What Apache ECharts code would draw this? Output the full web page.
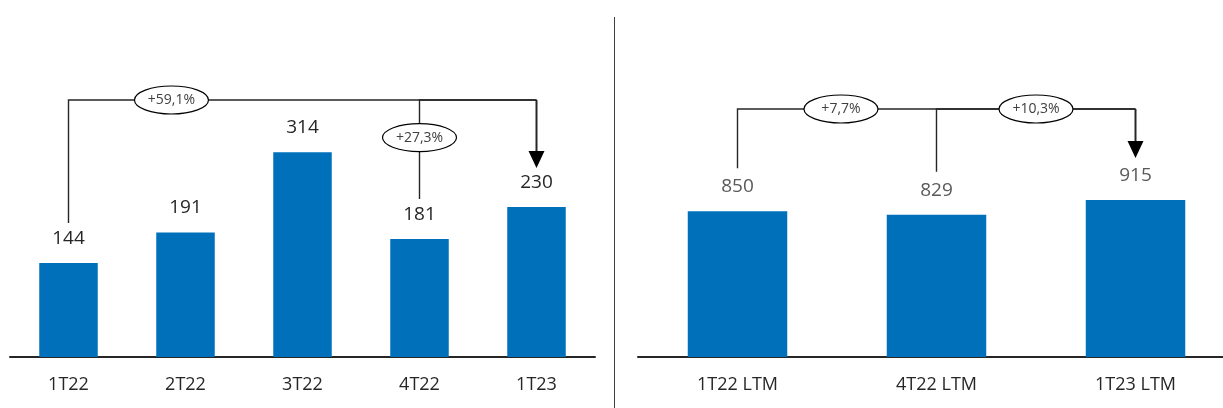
<!DOCTYPE html>
<html>
<head>
<meta charset="utf-8">
<script src="https://cdn.jsdelivr.net/npm/echarts@6/dist/echarts.min.js"></script>
<style>
html, body { margin: 0; padding: 0; background: #fff; overflow: hidden; }
#main { width: 1240px; height: 408px; }
</style>
</head>
<body>
<div id="main"></div>
<script>
const quarters = ['1T22', '2T22', '3T22', '4T22', '1T23']
const quarterValues = [144, 191, 314, 181, 230]
const ltmLabels = ['1T22 LTM', '4T22 LTM', '1T23 LTM']
const ltmValues = [850, 829, 915]
// variações (de -> para)
const quarterGrowth = [
    { from: 0, to: 4, text: '+59,1%', on: 'h', t: 0.22 },
    { from: 3, to: 4, text: '+27,3%', on: 'v', t: 0.38 }
]
const ltmGrowth = [
    { from: 0, to: 2, text: '+7,7%', on: 'h', t: 0.26 },
    { from: 1, to: 2, text: '+10,3%', on: 'h', t: 0.5 }
]

const font = 'Open Sans'
const blue = '#0070BB'
const ink = '#262626'

const main = document.querySelector('#main')
const myChart = echarts.init(main)

const catAxis = (gridIndex, data) => ({
    type: 'category',
    gridIndex,
    data,
    axisLine: { lineStyle: { color: ink, width: 2 } },
    axisTick: { show: false },
    axisLabel: { color: ink, fontFamily: font, fontSize: 18, margin: 19 }
})
const valAxis = (gridIndex, max) => ({
    type: 'value',
    gridIndex,
    min: 0,
    max,
    show: false
})
const barSeries = (idx, data, color) => ({
    type: 'bar',
    xAxisIndex: idx,
    yAxisIndex: idx,
    data,
    barWidth: '50%',
    itemStyle: { color: blue },
    label: {
        show: true,
        position: 'top',
        distance: 15,
        color,
        fontFamily: font,
        fontSize: 19
    },
    silent: true
})

myChart.setOption({
    animation: false,
    grid: [
        { left: 10, width: 585, top: 31, bottom: 51 },
        { left: 638, width: 597, top: 31, bottom: 51 }
    ],
    xAxis: [catAxis(0, quarters), catAxis(1, ltmLabels)],
    yAxis: [valAxis(0, 500), valAxis(1, 1900)],
    series: [
        barSeries(0, quarterValues, ink),
        barSeries(1, ltmValues, '#595959')
    ]
})

// setas e elipses com as variações
function brackets(idx, cats, values, items, topY, gap) {
    const px = i => myChart.convertToPixel({ xAxisIndex: idx }, cats[i])
    const py = v => myChart.convertToPixel({ yAxisIndex: idx }, v)
    const out = []
    const ovals = []
    const seen = {}
    items.forEach(it => {
        const x0 = px(it.from)
        const x1 = px(it.to)
        const yBottom = py(values[it.from]) - gap
        out.push({ type: 'polyline', shape: { points: [[x0, yBottom], [x0, topY], [x1, topY]] },
            style: { stroke: ink, lineWidth: 1.4, fill: null } })
        if (!seen[it.to]) {
            seen[it.to] = true
            const tip = py(values[it.to]) - gap + 1
            out.push({ type: 'line', shape: { x1: x1, y1: topY, x2: x1, y2: tip - 15 },
                style: { stroke: ink, lineWidth: 2 } })
            out.push({ type: 'polygon', shape: { points: [[x1 - 8, tip - 17], [x1 + 8, tip - 17], [x1, tip]] },
                style: { fill: '#000' } })
        }
        let cx, cy
        if (it.on === 'h') {
            cx = x0 + it.t * (x1 - x0)
            cy = topY
        } else {
            cx = x0
            cy = topY + it.t * (yBottom - topY)
        }
        ovals.push({ type: 'ellipse', shape: { cx, cy, rx: 37, ry: 14 },
            style: { fill: '#fff', stroke: '#000', lineWidth: 1.2 } })
        ovals.push({ type: 'text', x: cx, y: cy,
            style: { text: it.text, fill: '#404040', font: '14px "' + font + '"', align: 'center', verticalAlign: 'middle' } })
    })
    return out.concat(ovals)
}

myChart.setOption({
    graphic: [
        { type: 'line', shape: { x1: 614.5, y1: 17, x2: 614.5, y2: 408 }, style: { stroke: '#404040', lineWidth: 1 } }
    ].concat(
        brackets(0, quarters, quarterValues, quarterGrowth, 100, 40),
        brackets(1, ltmLabels, ltmValues, ltmGrowth, 109, 43)
    )
})
</script>
</body>
</html>
